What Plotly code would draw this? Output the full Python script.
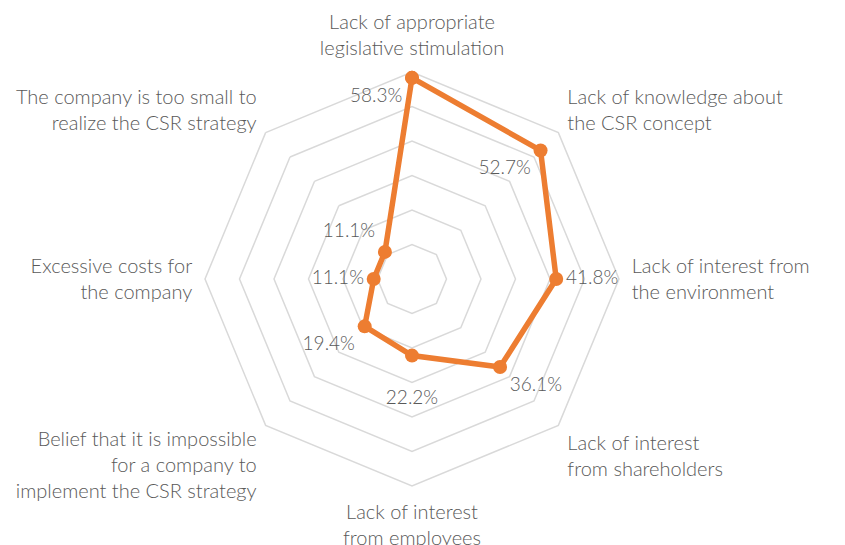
import plotly.graph_objects as go

categories = [
    "Lack of appropriate<br>legislative stimulation",
    "Lack of knowledge about<br>the CSR concept",
    "Lack of interest from<br>the environment",
    "Lack of interest<br>from shareholders",
    "Lack of interest<br>from employees",
    "Belief that it is impossible<br>for a company to<br>implement the CSR strategy",
    "Excessive costs for<br>the company",
    "The company is too small to<br>realize the CSR strategy",
]
values = [58.3, 52.7, 41.8, 36.1, 22.2, 19.4, 11.1, 11.1]
labels = [f"{v:.1f}%" for v in values]
labels[4] = "<br>" + labels[4]
label_pos = ["bottom left", "bottom left", "middle right", "bottom right",
             "bottom center", "bottom left", "middle left", "top left"]

ORANGE = "#ED7D31"
GRID = "#D9D9D9"
TEXT = "#595959"
FONT = "Lato"

fig = go.Figure()
fig.add_trace(go.Scatterpolar(
    r=values + values[:1],
    theta=categories + categories[:1],
    mode="lines+markers+text",
    text=labels + [""],
    textposition=label_pos + ["top center"],
    textfont=dict(family=FONT, size=19, color=TEXT, weight=300),
    line=dict(color=ORANGE, width=5.5),
    marker=dict(color=ORANGE, size=14),
    cliponaxis=False,
    showlegend=False,
    hoverinfo="skip",
))

fig.update_layout(
    width=845, height=545,
    margin=dict(l=0, r=0, t=0, b=0, autoexpand=False),
    paper_bgcolor="white",
    plot_bgcolor="white",
    font=dict(family=FONT, size=20, color=TEXT, weight=300),
    polar=dict(
        domain=dict(x=[205/845, 619/845], y=[59/545, 473/545]),
        bgcolor="white",
        gridshape="linear",
        radialaxis=dict(range=[0, 60], dtick=10, showticklabels=False,
                        ticks="", showline=False, gridcolor=GRID, gridwidth=1.5,
                        layer="below traces"),
        angularaxis=dict(direction="clockwise", rotation=90, showgrid=False,
                         showline=True, linecolor=GRID, linewidth=1.5,
                         ticks="outside", ticklen=8, tickcolor="rgba(0,0,0,0)",
                         layer="below traces",
                         tickfont=dict(family=FONT, size=20, color=TEXT, weight=300)),
    ),
)

fig.write_html("out.html",
               config={"displayModeBar": False, "staticPlot": True},
               post_script="document.body.style.margin='0';document.body.style.overflow='hidden';")
